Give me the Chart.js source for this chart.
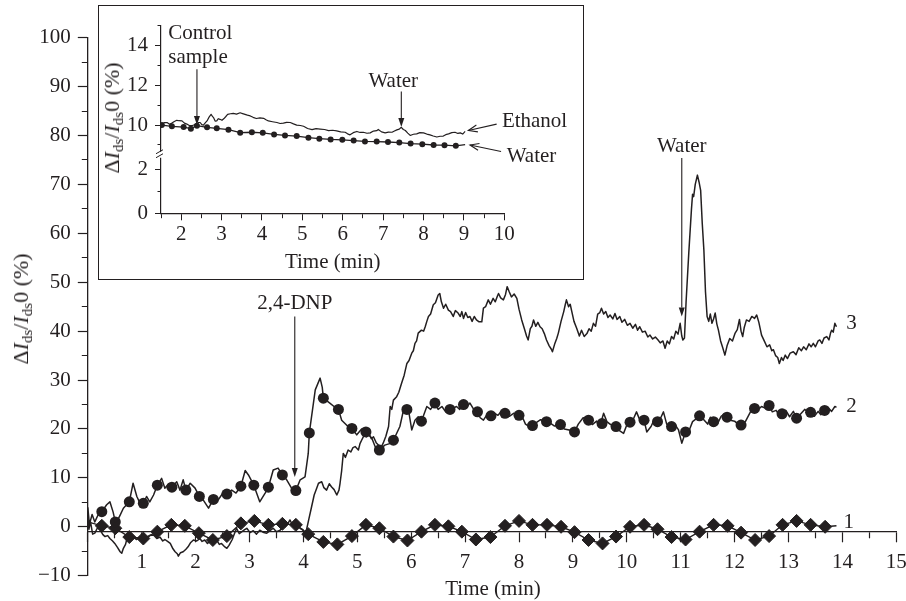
<!DOCTYPE html>
<html lang="en">
<head>
<meta charset="utf-8">
<title>Sensor response vs time</title>
<script src="https://cdn.jsdelivr.net/npm/chart.js"></script>
<style>
  body { margin: 0; background: #fff; }
  #wrap { position: relative; width: 906px; height: 601px; font-family: 'Liberation Serif', serif; color: #231f20; }
  #mainChart { position: absolute; left: 0; top: 0; }
  #insetBox { position: absolute; left: 98px; top: 5px; width: 484px; height: 273px; border: 1px solid #231f20; background: #fff; }
  .ttl { position: absolute; font-size: 21px; line-height: 1; white-space: nowrap; transform: translate(-50%, -50%); }
  .ttl.rot { font-size: 22px; transform: translate(-50%, -50%) rotate(-90deg); }
  .ttl sub { font-size: 15px; vertical-align: -4px; line-height: 0; }
</style>
</head>
<body>
<div id="wrap">
  <canvas id="mainChart" width="906" height="601"></canvas>
  <div id="insetBox"><canvas id="insetChart" width="484" height="273"></canvas></div>
  <div class="ttl rot" style="left:21px;top:309px">Δ<i>I</i><sub>ds</sub>/<i>I</i><sub>ds</sub>0 (%)</div>
  <div class="ttl rot" style="left:112px;top:118px">Δ<i>I</i><sub>ds</sub>/<i>I</i><sub>ds</sub>0 (%)</div>
  <div class="ttl" style="left:493px;top:588px">Time (min)</div>
</div>

<script>
// ---- main chart data (time in min, ΔI/I in %) ----
// curve 3: plain noisy trace
const s3Time = [
  0.00, 0.02, 0.05, 0.09, 0.13, 0.18, 0.23, 0.28, 0.32, 0.37,
  0.41, 0.46, 0.50, 0.55, 0.60, 0.63, 0.66, 0.70, 0.72, 0.78,
  0.84, 0.90, 0.97, 1.03, 1.09, 1.15, 1.22, 1.28, 1.34, 1.39,
  1.43, 1.48, 1.53, 1.58, 1.62, 1.66, 1.68, 1.72, 1.77, 1.82,
  1.86, 1.91, 1.96, 2.02, 2.08, 2.12, 2.17, 2.22, 2.27, 2.33,
  2.39, 2.44, 2.48, 2.53, 2.58, 2.62, 2.64, 2.68, 2.70, 2.76,
  2.81, 2.86, 2.91, 2.95, 3.01, 3.07, 3.13, 3.19, 3.25, 3.32,
  3.38, 3.44, 3.50, 3.57, 3.62, 3.66, 3.72, 3.75, 3.80, 3.84,
  3.89, 3.94, 3.99, 4.03, 4.06, 4.10, 4.15, 4.20, 4.25, 4.28,
  4.34, 4.38, 4.43, 4.48, 4.52, 4.57, 4.62, 4.66, 4.68, 4.71,
  4.74, 4.78, 4.83, 4.88, 4.92, 4.96, 5.02, 5.05, 5.08, 5.13,
  5.17, 5.22, 5.26, 5.30, 5.35, 5.40, 5.44, 5.48, 5.53, 5.58,
  5.61, 5.64, 5.67, 5.73, 5.77, 5.82, 5.87, 5.92, 5.96, 6.01,
  6.04, 6.07, 6.10, 6.13, 6.19, 6.23, 6.26, 6.29, 6.32, 6.36,
  6.41, 6.45, 6.50, 6.53, 6.56, 6.60, 6.64, 6.69, 6.73, 6.78,
  6.82, 6.87, 6.91, 6.94, 6.97, 7.01, 7.05, 7.09, 7.13, 7.17,
  7.21, 7.26, 7.31, 7.34, 7.38, 7.43, 7.47, 7.52, 7.56, 7.60,
  7.62, 7.66, 7.71, 7.75, 7.78, 7.82, 7.86, 7.91, 7.96, 8.00,
  8.05, 8.10, 8.14, 8.17, 8.21, 8.24, 8.27, 8.31, 8.35, 8.39,
  8.43, 8.47, 8.51, 8.56, 8.60, 8.62, 8.66, 8.70, 8.73, 8.78,
  8.83, 8.86, 8.88, 8.92, 8.95, 8.98, 9.02, 9.07, 9.12, 9.16,
  9.21, 9.26, 9.30, 9.34, 9.38, 9.42, 9.46, 9.50, 9.53, 9.57,
  9.61, 9.65, 9.69, 9.74, 9.78, 9.82, 9.87, 9.91, 9.96, 10.01,
  10.06, 10.11, 10.16, 10.20, 10.24, 10.29, 10.34, 10.39, 10.43, 10.48,
  10.53, 10.58, 10.62, 10.67, 10.71, 10.75, 10.79, 10.83, 10.87, 10.91,
  10.95, 10.99, 11.02, 11.04, 11.07, 11.10, 11.15, 11.20, 11.22, 11.24,
  11.27, 11.31, 11.34, 11.37, 11.40, 11.43, 11.46, 11.49, 11.52, 11.55,
  11.58, 11.61, 11.64, 11.67, 11.70, 11.74, 11.78, 11.82, 11.86, 11.91,
  11.96, 12.01, 12.05, 12.09, 12.12, 12.15, 12.18, 12.22, 12.27, 12.32,
  12.37, 12.41, 12.45, 12.50, 12.55, 12.60, 12.65, 12.69, 12.72, 12.76,
  12.80, 12.83, 12.87, 12.90, 12.94, 12.98, 13.03, 13.09, 13.14, 13.19,
  13.24, 13.28, 13.33, 13.38, 13.42, 13.46, 13.50, 13.55, 13.58, 13.62,
  13.66, 13.71, 13.75, 13.78, 13.80, 13.83, 13.86, 13.89
];
const s3Value = [
  2.0, -0.5, 1.0, -1.5, -1.3, -0.2, -0.7, -1.6, -2.0, -1.8,
  -2.4, -2.9, -3.4, -4.2, -5.1, -5.4, -4.4, -3.6, -2.7, -2.3,
  -2.0, -2.6, -2.1, -2.8, -2.4, -1.8, -1.7, -2.4, -2.1, -2.9,
  -2.6, -3.0, -3.4, -4.5, -5.1, -5.5, -6.0, -5.3, -5.1, -4.6,
  -4.1, -3.2, -2.7, -2.9, -2.4, -3.0, -2.7, -3.4, -3.0, -2.5,
  -2.7, -3.6, -3.4, -4.0, -4.4, -3.8, -3.4, -2.6, -2.0, -0.3,
  -1.4, -1.0, -0.6, -0.3, -1.2, -0.8, -1.5, -0.7, -1.1, -1.3,
  -0.8, -0.3, -1.0, -0.7, 0.2, 0.0, 0.8, 1.4, 0.3, 0.0,
  0.6, -0.3, -0.6, -1.3, -0.5, 1.5, 4.0, 6.5, 8.0, 8.9,
  9.2, 8.0, 7.5, 8.8, 8.2, 7.6, 6.5, 7.5, 8.9, 11.5,
  15.0, 14.2, 15.7, 15.3, 16.2, 16.4, 15.7, 17.0, 17.7, 18.8,
  18.4, 19.0, 18.0, 18.4, 17.2, 16.6, 16.2, 17.1, 18.5, 20.5,
  24.6, 24.0, 25.9, 26.6, 27.5, 29.3, 31.0, 33.4, 34.0, 35.5,
  36.0, 37.5, 38.0, 39.6, 40.2, 40.0, 40.9, 42.0, 43.0, 43.5,
  45.4, 45.8, 47.4, 47.7, 46.0, 44.7, 45.5, 44.3, 44.0, 43.0,
  44.2, 43.7, 43.0, 44.0, 42.6, 43.8, 42.8, 43.0, 42.0, 43.0,
  42.3, 41.9, 41.9, 44.7, 45.0, 46.4, 45.5, 46.7, 46.0, 47.2,
  47.7, 46.8, 46.4, 47.5, 49.1, 48.0, 47.0, 47.6, 46.7, 44.5,
  42.3, 40.5, 39.0, 38.2, 40.5, 41.0, 42.3, 41.0, 41.8, 40.9,
  40.5, 39.5, 38.2, 37.0, 36.3, 35.8, 37.3, 38.5, 39.6, 42.0,
  44.0, 45.5, 46.4, 45.0, 45.5, 44.0, 42.0, 40.6, 39.0, 40.2,
  38.9, 39.5, 40.5, 40.0, 41.6, 41.0, 43.5, 43.8, 44.7, 43.5,
  44.0, 42.8, 43.3, 42.5, 43.6, 42.4, 43.0, 41.8, 42.4, 41.2,
  41.6, 40.6, 41.4, 40.2, 40.9, 39.8, 40.0, 38.8, 39.2, 38.4,
  38.8, 38.2, 37.6, 38.0, 36.5, 38.0, 37.4, 38.9, 38.4, 40.0,
  39.4, 41.6, 39.0, 38.2, 38.6, 46.0, 56.0, 65.0, 68.0, 67.5,
  70.0, 71.9, 70.5, 68.8, 62.0, 56.6, 48.0, 43.0, 42.0, 43.5,
  41.6, 42.5, 43.7, 41.5, 40.2, 38.0, 36.6, 35.1, 37.0, 38.5,
  38.0, 39.6, 40.3, 42.4, 40.0, 38.9, 40.8, 42.3, 42.0, 43.0,
  42.6, 43.3, 41.8, 39.2, 38.0, 36.8, 37.2, 36.0, 36.2, 35.0,
  34.6, 33.4, 34.6, 34.0, 35.1, 34.4, 35.5, 35.8, 35.2, 36.6,
  36.0, 36.8, 36.2, 37.4, 36.8, 37.5, 36.8, 38.0, 38.2, 37.5,
  38.6, 38.9, 38.2, 39.6, 40.2, 39.8, 41.6, 40.9
];

// curve 2: noisy trace plus the round markers laid on it
const s2Time = [
  0.00, 0.03, 0.08, 0.13, 0.19, 0.26, 0.35, 0.41, 0.47, 0.51,
  0.56, 0.60, 0.66, 0.77, 0.84, 0.91, 0.97, 1.03, 1.09, 1.15,
  1.22, 1.29, 1.37, 1.43, 1.50, 1.56, 1.65, 1.71, 1.77, 1.82,
  1.90, 1.99, 2.07, 2.14, 2.24, 2.33, 2.42, 2.50, 2.58, 2.67,
  2.75, 2.84, 2.92, 2.98, 3.08, 3.19, 3.29, 3.35, 3.44, 3.53,
  3.61, 3.69, 3.78, 3.86, 3.94, 4.03, 4.09, 4.11, 4.22, 4.31,
  4.35, 4.37, 4.49, 4.58, 4.65, 4.71, 4.80, 4.90, 4.99, 5.08,
  5.16, 5.27, 5.33, 5.41, 5.51, 5.60, 5.67, 5.79, 5.87, 5.92,
  5.96, 6.01, 6.07, 6.13, 6.19, 6.29, 6.36, 6.44, 6.50, 6.57,
  6.64, 6.72, 6.78, 6.84, 6.90, 6.97, 7.03, 7.09, 7.16, 7.23,
  7.28, 7.34, 7.41, 7.48, 7.55, 7.61, 7.67, 7.74, 7.82, 7.90,
  8.00, 8.06, 8.12, 8.19, 8.25, 8.32, 8.40, 8.51, 8.58, 8.66,
  8.77, 8.84, 8.93, 9.03, 9.10, 9.19, 9.29, 9.36, 9.44, 9.50,
  9.57, 9.63, 9.70, 9.80, 9.87, 9.94, 10.00, 10.06, 10.12, 10.18,
  10.25, 10.32, 10.37, 10.45, 10.51, 10.57, 10.63, 10.68, 10.74, 10.83,
  10.90, 10.96, 11.02, 11.09, 11.16, 11.22, 11.28, 11.35, 11.42, 11.50,
  11.55, 11.61, 11.68, 11.75, 11.80, 11.86, 11.92, 12.00, 12.06, 12.12,
  12.20, 12.27, 12.32, 12.37, 12.44, 12.50, 12.58, 12.64, 12.70, 12.77,
  12.83, 12.88, 12.95, 13.02, 13.09, 13.15, 13.22, 13.30, 13.36, 13.41,
  13.48, 13.55, 13.60, 13.67, 13.73, 13.80, 13.86, 13.89
];
const s2Value = [
  4.0, 0.5, 2.5, 1.0, 2.4, 3.1, 4.5, 5.1, 3.0, 1.0,
  1.5, 2.4, 3.8, 5.1, 8.9, 6.2, 4.8, 4.8, 6.2, 5.1,
  6.5, 8.5, 9.9, 7.9, 8.8, 8.1, 9.2, 7.5, 9.6, 7.5,
  8.9, 7.9, 6.2, 5.5, 3.8, 5.6, 5.5, 6.8, 6.7, 7.5,
  6.9, 8.3, 11.5, 10.6, 8.5, 5.1, 6.9, 8.1, 11.6, 12.0,
  10.6, 9.6, 7.9, 7.4, 9.6, 10.2, 15.0, 19.2, 28.0, 30.4,
  28.5, 26.3, 25.3, 24.5, 24.0, 21.8, 20.8, 20.1, 18.8, 20.0,
  19.4, 18.1, 16.4, 15.7, 16.7, 17.0, 17.7, 20.5, 24.5, 24.0,
  23.2, 19.8, 21.8, 22.5, 21.6, 24.6, 24.0, 25.3, 24.0, 24.6,
  23.5, 24.0, 24.2, 24.6, 24.0, 25.0, 24.5, 25.3, 24.0, 23.5,
  22.3, 21.8, 23.0, 22.7, 23.2, 22.8, 23.6, 23.2, 22.6, 23.2,
  22.8, 22.5, 21.0, 20.5, 20.7, 21.3, 21.9, 21.5, 21.2, 20.6,
  20.9, 20.0, 19.8, 19.4, 21.0, 22.3, 21.8, 20.9, 21.6, 20.5,
  23.2, 21.5, 20.9, 20.5, 19.6, 19.1, 20.8, 21.4, 22.0, 23.5,
  21.6, 21.8, 19.4, 20.5, 22.0, 21.5, 22.3, 23.5, 21.0, 20.5,
  20.8, 19.8, 17.1, 19.4, 19.8, 21.5, 22.0, 22.7, 22.0, 21.0,
  22.4, 21.5, 21.0, 22.6, 23.0, 22.4, 21.8, 21.6, 21.0, 20.8,
  21.5, 23.0, 24.0, 24.2, 24.0, 24.6, 24.2, 24.8, 23.5, 23.8,
  22.8, 23.1, 23.8, 22.5, 23.6, 22.2, 23.0, 24.0, 23.5, 23.4,
  22.6, 23.6, 22.9, 23.8, 24.4, 23.6, 24.6, 24.4
];
const s2MarkTime = [
  0.26, 0.51, 0.77, 1.03, 1.29, 1.56, 1.82, 2.07, 2.33, 2.58,
  2.84, 3.08, 3.35, 3.61, 3.86, 4.11, 4.37, 4.65, 4.90, 5.16,
  5.41, 5.67, 5.92, 6.19, 6.44, 6.72, 6.97, 7.23, 7.48, 7.74,
  8.00, 8.25, 8.51, 8.77, 9.03, 9.29, 9.54, 9.80, 10.06, 10.32,
  10.57, 10.83, 11.09, 11.35, 11.61, 11.86, 12.12, 12.37, 12.64, 12.88,
  13.15, 13.41, 13.67
];
const s2MarkValue = [
  3.1, 1.0, 5.1, 4.8, 8.5, 8.1, 7.5, 6.2, 5.6, 6.7,
  8.3, 8.5, 8.1, 10.6, 7.4, 19.2, 26.3, 24.0, 20.1, 19.4,
  15.7, 17.7, 24.0, 21.6, 25.3, 24.0, 25.0, 23.5, 22.7, 23.2,
  22.8, 20.7, 21.5, 20.9, 19.4, 21.8, 21.1, 20.5, 21.4, 21.8,
  21.5, 20.5, 19.4, 22.7, 21.5, 22.4, 20.8, 24.2, 24.8, 23.1,
  22.2, 23.4, 23.8
];

// curve 1: diamonds joined by a line (first and last points carry no marker)
const s1Time = [
  0.00, 0.26, 0.51, 0.77, 1.03, 1.29, 1.55, 1.80, 2.06, 2.32, 2.58,
  2.84, 3.09, 3.35, 3.61, 3.86, 4.09, 4.37, 4.63, 4.90, 5.16, 5.41,
  5.67, 5.93, 6.19, 6.44, 6.69, 6.94, 7.20, 7.47, 7.74, 8.00, 8.25,
  8.52, 8.78, 9.03, 9.29, 9.55, 9.80, 10.06, 10.32, 10.57, 10.83, 11.09,
  11.35, 11.61, 11.87, 12.12, 12.38, 12.64, 12.89, 13.15, 13.41, 13.68, 13.89
];
const s1Value = [
  1.0, 0.2, -0.3, -2.1, -2.4, -1.0, 0.4, 0.2, -1.3, -2.7, -1.9,
  0.7, 1.2, 0.4, 0.6, 0.4, -1.5, -3.1, -3.6, -1.9, 0.4, -0.3,
  -2.0, -2.8, -1.0, 0.4, 0.1, -1.0, -2.6, -2.1, 0.2, 1.2, 0.4,
  0.4, 0.0, -1.1, -2.7, -3.4, -2.0, 0.0, 0.4, -0.5, -2.1, -2.6,
  -1.0, 0.4, 0.2, -1.2, -2.7, -1.9, 0.4, 1.2, 0.4, 0.0, 0.2
];

// ---- inset data ----
const ethTime = [
  1.52, 1.58, 1.65, 1.71, 1.77, 1.83, 1.89, 1.95, 2.02, 2.08,
  2.14, 2.20, 2.26, 2.33, 2.39, 2.43, 2.47, 2.51, 2.55, 2.60,
  2.64, 2.69, 2.74, 2.77, 2.80, 2.84, 2.88, 2.92, 2.96, 3.01,
  3.06, 3.10, 3.15, 3.22, 3.29, 3.37, 3.46, 3.52, 3.58, 3.64,
  3.71, 3.78, 3.86, 3.95, 4.04, 4.10, 4.16, 4.26, 4.37, 4.45,
  4.53, 4.61, 4.70, 4.78, 4.86, 4.95, 5.03, 5.13, 5.24, 5.34,
  5.44, 5.55, 5.65, 5.75, 5.85, 5.95, 6.06, 6.12, 6.18, 6.26,
  6.35, 6.43, 6.51, 6.60, 6.68, 6.76, 6.84, 6.88, 6.96, 7.05,
  7.13, 7.22, 7.28, 7.34, 7.40, 7.45, 7.50, 7.55, 7.61, 7.67,
  7.75, 7.83, 7.91, 8.00, 8.08, 8.16, 8.24, 8.33, 8.41, 8.49,
  8.55, 8.62, 8.70, 8.78, 8.85, 8.91, 8.97, 9.03
];
const ethValue = [
  10.05, 10.12, 10.13, 10.04, 10.10, 10.18, 10.24, 10.22, 10.21, 10.10,
  10.05, 9.98, 9.97, 10.02, 10.05, 10.13, 10.13, 10.02, 10.00, 10.12,
  10.21, 10.40, 10.54, 10.45, 10.38, 10.20, 10.21, 10.32, 10.29, 10.24,
  10.33, 10.42, 10.54, 10.57, 10.59, 10.55, 10.62, 10.58, 10.54, 10.50,
  10.46, 10.39, 10.33, 10.36, 10.34, 10.27, 10.21, 10.17, 10.13, 10.08,
  10.10, 10.14, 10.13, 10.06, 10.00, 9.98, 9.94, 9.83, 9.77, 9.82,
  9.80, 9.78, 9.72, 9.74, 9.71, 9.66, 9.64, 9.56, 9.51, 9.62,
  9.68, 9.63, 9.64, 9.59, 9.61, 9.70, 9.72, 9.78, 9.66, 9.61,
  9.65, 9.64, 9.70, 9.76, 9.80, 9.89, 9.78, 9.73, 9.60, 9.48,
  9.54, 9.56, 9.62, 9.61, 9.55, 9.51, 9.45, 9.40, 9.44, 9.45,
  9.52, 9.56, 9.62, 9.64, 9.58, 9.61, 9.55, 9.68
];
const waterTime = [
  1.52, 1.77, 2.06, 2.24, 2.39, 2.64, 2.88, 3.17, 3.46, 3.75,
  4.02, 4.30, 4.57, 4.86, 5.15, 5.42, 5.70, 5.99, 6.27, 6.55,
  6.84, 7.12, 7.40, 7.68, 7.97, 8.25, 8.52, 8.80, 9.03
];
const waterValue = [
  10.00, 9.94, 9.90, 9.82, 9.97, 9.89, 9.84, 9.77, 9.62, 9.64,
  9.61, 9.53, 9.48, 9.45, 9.37, 9.32, 9.28, 9.26, 9.22, 9.18,
  9.17, 9.15, 9.12, 9.07, 9.04, 9.00, 8.99, 8.96, 9.02
];

// ---- annotations, in data units ----
const mainTexts = [
  { text: '2,4-DNP', x: 3.84, y: 45.7, align: 'center' },
  { text: 'Water', x: 11.02, y: 77.7, align: 'center' },
  { text: '3', x: 14.07, y: 41.6, align: 'left' },
  { text: '2', x: 14.07, y: 24.6, align: 'left' },
  { text: '1', x: 14.02, y: 0.8, align: 'left' }
];
const mainArrows = [
  { x0: 3.84, y0: 43.0, x1: 3.84, y1: 10.2, head: 'fill' },
  { x0: 11.02, y0: 75.4, x1: 11.02, y1: 43.0, head: 'fill' }
];
const insetTexts = [
  { text: 'Control', x: 1.68, y: 14.62, align: 'left' },
  { text: 'sample', x: 1.68, y: 13.40, align: 'left' },
  { text: 'Water', x: 7.25, y: 12.2, align: 'center' },
  { text: 'Ethanol', x: 9.94, y: 10.17, align: 'left' },
  { text: 'Water', x: 10.06, y: 8.42, align: 'left' }
];
const insetArrows = [
  { x0: 2.39, y0: 12.81, x1: 2.39, y1: 10.0, head: 'fill' },
  { x0: 7.45, y0: 11.69, x1: 7.45, y1: 9.9, head: 'fill' },
  { x0: 9.81, y0: 10.05, x1: 9.11, y1: 9.73, head: 'open' },
  { x0: 9.92, y0: 8.67, x1: 9.15, y1: 9.0, head: 'open' }
];

const ink = '#231f20';
Chart.defaults.font.family = "'Liberation Serif', serif";
Chart.defaults.font.size = 21;
Chart.defaults.color = ink;
Chart.defaults.animation = false;

const pts = (xs, ys) => xs.map((x, i) => ({ x: x, y: ys[i] }));

// text labels and arrows placed through the chart scales
function notesPlugin(texts, arrows, yId) {
  return {
    id: 'notes',
    afterDatasetsDraw(chart) {
      const ctx = chart.ctx, xs = chart.scales.x, ys = chart.scales[yId];
      ctx.save();
      ctx.fillStyle = ink;
      ctx.strokeStyle = ink;
      ctx.lineWidth = 1.1;
      ctx.font = "21px 'Liberation Serif'";
      ctx.textBaseline = 'middle';
      texts.forEach(t => {
        ctx.textAlign = t.align;
        ctx.fillText(t.text, xs.getPixelForValue(t.x), ys.getPixelForValue(t.y));
      });
      arrows.forEach(a => {
        const x0 = xs.getPixelForValue(a.x0), y0 = ys.getPixelForValue(a.y0);
        const x1 = xs.getPixelForValue(a.x1), y1 = ys.getPixelForValue(a.y1);
        const len = Math.hypot(x1 - x0, y1 - y0);
        const ux = (x1 - x0) / len, uy = (y1 - y0) / len;
        const hl = 9, hw = a.head === 'fill' ? 3 : 3.5;
        const bx = x1 - ux * hl, by = y1 - uy * hl;
        ctx.beginPath();
        ctx.moveTo(x0, y0);
        if (a.head === 'fill') ctx.lineTo(bx, by); else ctx.lineTo(x1, y1);
        ctx.stroke();
        ctx.beginPath();
        ctx.moveTo(bx - uy * hw, by + ux * hw);
        ctx.lineTo(x1, y1);
        ctx.lineTo(bx + uy * hw, by - ux * hw);
        if (a.head === 'fill') { ctx.closePath(); ctx.fill(); } else { ctx.stroke(); }
      });
      ctx.restore();
    }
  };
}

// "//" mark where the inset's y axis is broken
const axisBreak = {
  id: 'axisBreak',
  afterDraw(chart) {
    const ctx = chart.ctx, x = chart.chartArea.left, y = chart.scales.yHigh.bottom;
    ctx.save();
    ctx.fillStyle = '#fff';
    ctx.fillRect(x - 2, y - 3, 4, 6);
    ctx.strokeStyle = ink;
    ctx.lineWidth = 1;
    ctx.beginPath();
    ctx.moveTo(x - 5, y - 1); ctx.lineTo(x + 2, y - 5);
    ctx.moveTo(x - 5, y + 3); ctx.lineTo(x + 2, y - 1);
    ctx.stroke();
    ctx.restore();
  }
};

// long ticks on labelled values, short ones between
const xTickDash = (major, short) => c => major(c.tick.value) ? [] : [short, 50];
const yTickDash = (major, len, short) => c => major(c.tick.value) ? [] : [0, len - short, short, 50];
const isInt = v => Math.abs(v - Math.round(v)) < 1e-6;

new Chart(document.getElementById('mainChart'), {
  type: 'line',
  data: {
    datasets: [
      { data: pts(s3Time, s3Value), borderColor: ink, borderWidth: 1.5, borderJoinStyle: 'round', pointRadius: 0 },
      { data: pts(s2Time, s2Value), borderColor: ink, borderWidth: 1.5, borderJoinStyle: 'round', pointRadius: 0 },
      { data: pts(s2MarkTime, s2MarkValue), showLine: false, pointStyle: 'circle', pointRadius: 5.5,
        backgroundColor: ink, borderColor: ink, pointBorderWidth: 0 },
      { data: pts(s1Time, s1Value), borderColor: ink, borderWidth: 1.4, backgroundColor: ink,
        pointStyle: 'rectRot', pointBorderWidth: 1,
        pointRadius: c => (c.dataIndex === 0 || c.dataIndex === s1Time.length - 1) ? 0 : 6.5 }
    ]
  },
  options: {
    responsive: false,
    events: [],
    layout: { padding: { left: 0, top: 37.7, right: 9.7, bottom: 25.3 } },
    plugins: { legend: { display: false }, tooltip: { enabled: false } },
    scales: {
      x: {
        type: 'linear', position: { y: -1 }, min: 0, max: 15,
        afterFit: s => { s.height = 0; s.paddingLeft = 0; s.paddingRight = 0; },
        ticks: { stepSize: 0.5, autoSkip: false, maxRotation: 0, padding: 8,
                 callback: v => (isInt(v) && v > 0) ? v : '' },
        grid: { drawOnChartArea: false, tickLength: 10, tickColor: ink, tickWidth: 1.2,
                tickBorderDash: xTickDash(isInt, 6) },
        border: { color: ink, width: 1.3 }
      },
      y: {
        min: -10, max: 100,
        afterFit: s => { s.width = 87.8; s.paddingTop = 0; s.paddingBottom = 0; },
        ticks: { stepSize: 5, autoSkip: false, padding: 7,
                 callback: v => v % 10 === 0 ? (v < 0 ? '\u2212' + (-v) : v) : '' },
        grid: { drawOnChartArea: false, tickLength: 10, tickColor: ink, tickWidth: 1.2,
                tickBorderDash: yTickDash(v => v % 10 === 0, 10, 6) },
        border: { color: ink, width: 1.3 }
      }
    }
  },
  plugins: [notesPlugin(mainTexts, mainArrows, 'y')]
});

new Chart(document.getElementById('insetChart'), {
  type: 'line',
  data: {
    datasets: [
      { data: pts(ethTime, ethValue), yAxisID: 'yHigh', borderColor: ink, borderWidth: 1.2,
        borderJoinStyle: 'round', pointRadius: 0 },
      { data: pts(waterTime, waterValue), yAxisID: 'yHigh', borderColor: ink, borderWidth: 1.3,
        backgroundColor: ink, pointStyle: 'circle', pointBorderWidth: 0,
        pointRadius: c => c.dataIndex === waterTime.length - 1 ? 0 : 3 }
    ]
  },
  options: {
    responsive: false,
    events: [],
    layout: { padding: { left: 0, top: 14, right: 78.7, bottom: 0 } },
    plugins: { legend: { display: false }, tooltip: { enabled: false } },
    scales: {
      x: {
        type: 'linear', min: 1.5, max: 10,
        afterFit: s => { s.height = 65.7; s.paddingLeft = 0; s.paddingRight = 0; },
        ticks: { stepSize: 0.5, autoSkip: false, maxRotation: 0, padding: 2,
                 callback: v => isInt(v) ? v : '' },
        grid: { drawOnChartArea: false, tickLength: 7, tickColor: ink, tickWidth: 1,
                tickBorderDash: xTickDash(isInt, 4) },
        border: { color: ink, width: 1.2 },
        title: { display: true, text: 'Time (min)', padding: { top: 0, bottom: 4 } }
      },
      yLow: {
        type: 'linear', position: 'left', stack: 'inset', stackWeight: 60.3, weight: 0,
        min: 0, max: 2.68,
        afterFit: s => { s.width = 62; },
        ticks: { stepSize: 1, includeBounds: false, autoSkip: false, padding: 7,
                 callback: v => v % 2 === 0 ? v : '' },
        grid: { drawOnChartArea: false, tickLength: 6, tickColor: ink, tickWidth: 1,
                tickBorderDash: yTickDash(v => v % 2 === 0, 6, 3.5) },
        border: { color: ink, width: 1.2 }
      },
      yHigh: {
        type: 'linear', position: 'left', stack: 'inset', stackWeight: 133, weight: 1,
        min: 8.51, max: 15,
        afterFit: s => { s.width = 62; },
        ticks: { stepSize: 1, includeBounds: false, autoSkip: false, padding: 7,
                 callback: v => v % 2 === 0 ? v : '' },
        grid: { drawOnChartArea: false, tickLength: 6, tickColor: ink, tickWidth: 1,
                tickBorderDash: yTickDash(v => v % 2 === 0, 6, 3.5) },
        border: { color: ink, width: 1.2 }
      }
    }
  },
  plugins: [notesPlugin(insetTexts, insetArrows, 'yHigh'), axisBreak]
});
</script>
</body>
</html>
